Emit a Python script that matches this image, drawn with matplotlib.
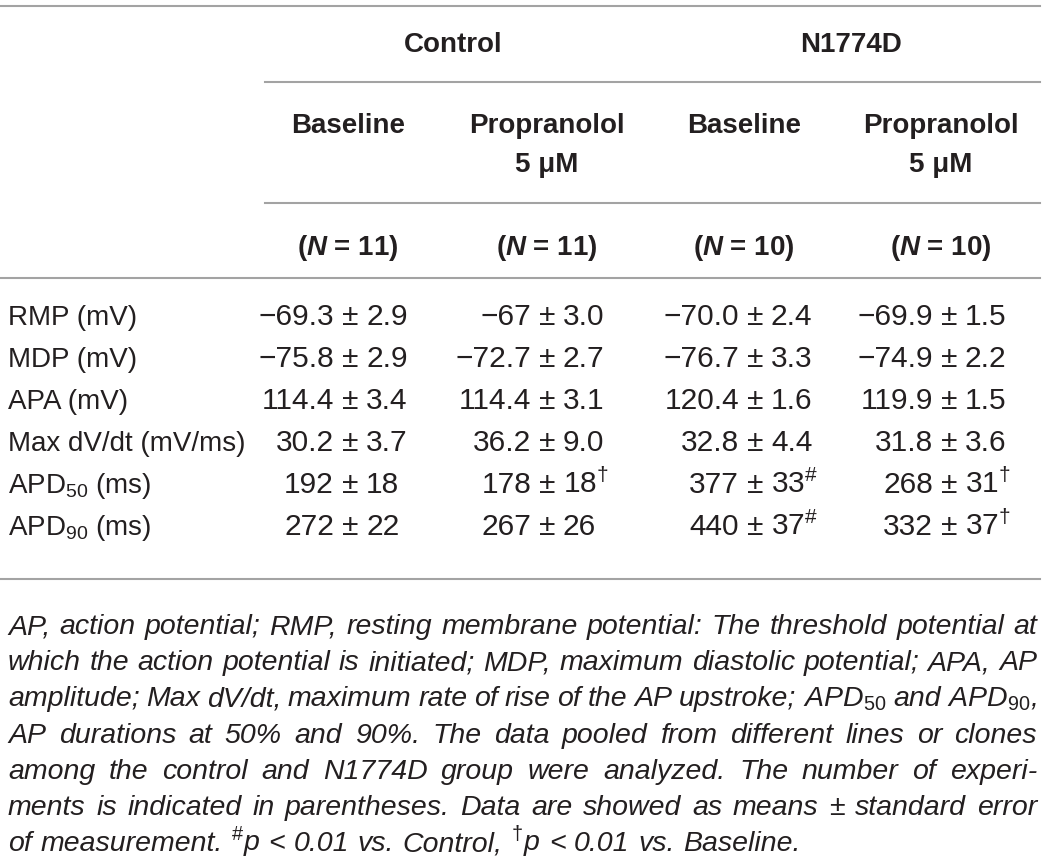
import matplotlib
matplotlib.use("Agg")
import matplotlib.pyplot as plt

plt.rcParams['font.family'] = ['Liberation Sans', 'DejaVu Sans']
plt.rcParams['mathtext.fontset'] = 'custom'
plt.rcParams['mathtext.rm'] = 'Liberation Sans'
plt.rcParams['mathtext.it'] = 'Liberation Sans:italic'
plt.rcParams['mathtext.bf'] = 'Liberation Sans:bold'
plt.rcParams['mathtext.bfit'] = 'Liberation Sans:italic:bold'

# === table content ===
groups = ['Control', 'N1774D']
conditions = ['Baseline', 'Propranolol\n5 μM', 'Baseline', 'Propranolol\n5 μM']
n_values = [11, 11, 10, 10]

row_labels = ['RMP (mV)', 'MDP (mV)', 'APA (mV)', 'Max dV/dt (mV/ms)',
              'APD$_{50}$ (ms)', 'APD$_{90}$ (ms)']

ctrl_base_mean = ['−69.3', '−75.8', '114.4', '30.2', '192', '272']
ctrl_base_sem = ['2.9', '2.9', '3.4', '3.7', '18', '22']
ctrl_prop_mean = ['−67', '−72.7', '114.4', '36.2', '178', '267']
ctrl_prop_sem = ['3.0', '2.7', '3.1', '9.0', '18', '26']
mut_base_mean = ['−70.0', '−76.7', '120.4', '32.8', '377', '440']
mut_base_sem = ['2.4', '3.3', '1.6', '4.4', '33', '37']
mut_prop_mean = ['−69.9', '−74.9', '119.9', '31.8', '268', '332']
mut_prop_sem = ['1.5', '2.2', '1.5', '3.6', '31', '37']

# significance marks: '#' vs Control, 'dag' vs Baseline
ctrl_base_mark = ['', '', '', '', '', '']
ctrl_prop_mark = ['', '', '', '', 'dag', '']
mut_base_mark = ['', '', '', '', '#', '#']
mut_prop_mark = ['', '', '', '', 'dag', 'dag']

footnote_lines = [
    'AP, action potential; RMP, resting membrane potential: The threshold potential at',
    'which the action potential is initiated; MDP, maximum diastolic potential; APA, AP',
    r'amplitude; Max dV/dt, maximum rate of rise of the AP upstroke; APD$_{\mathit{50}}$ and APD$_{\mathit{90}}$,',
    'AP durations at 50% and 90%. The data pooled from different lines or clones',
    'among the control and N1774D group were analyzed. The number of experi-',
    'ments is indicated in parentheses. Data are showed as means ± standard error',
    r'of measurement. $^{\#}$p < 0.01 vs. Control, $^{\dagger}$p < 0.01 vs. Baseline.',
]

means = [ctrl_base_mean, ctrl_prop_mean, mut_base_mean, mut_prop_mean]
sems = [ctrl_base_sem, ctrl_prop_sem, mut_base_sem, mut_prop_sem]
marks = [ctrl_base_mark, ctrl_prop_mark, mut_base_mark, mut_prop_mark]

# === layout (pixel units) ===
W, H = 1043, 860
ink = '#231f20'
rule = '#a3a3a3'
col_centers = [348, 547, 744, 941]
pm_x = [350, 547, 755, 949]
group_centers = [453, 851]
row_y = [315, 357, 399, 441, 483, 525]
fs = 20
num_fs = 21.5

fig = plt.figure(figsize=(W / 100, H / 100), dpi=100)
ax = fig.add_axes([0, 0, 1, 1])
ax.set_xlim(0, W)
ax.set_ylim(H, 0)
ax.axis('off')

# rules
ax.plot([0, 1040], [5.5, 5.5], color=rule, lw=1.5)
ax.plot([265, 1040], [82, 82], color=rule, lw=1.5)
ax.plot([265, 1040], [203, 203], color=rule, lw=1.5)
ax.plot([0, 1040], [278, 278], color=rule, lw=1.5)
ax.plot([0, 1040], [579, 579], color=rule, lw=1.5)

# headers
for g, x in zip(groups, group_centers):
    ax.text(x, 52, g, ha='center', va='baseline', fontsize=fs,
            fontweight='bold', color=ink)
for c, x in zip(conditions, col_centers):
    parts = c.split('\n')
    ax.text(x, 133, parts[0], ha='center', va='baseline', fontsize=fs,
            fontweight='bold', color=ink)
    if len(parts) > 1:
        ax.text(x, 172, parts[1], ha='center', va='baseline', fontsize=fs,
                fontweight='bold', color=ink)
for n, x in zip(n_values, col_centers):
    ax.text(x, 255, '($\\mathbfit{N}$ = %d)' % n, ha='center', va='baseline',
            fontsize=fs, fontweight='bold', color=ink)

# body, aligned on the ± sign
for i, lab in enumerate(row_labels):
    yb = row_y[i] + 10
    ax.text(8, yb, lab, ha='left', va='baseline', fontsize=fs, color=ink)
    for j in range(4):
        x = pm_x[j]
        ax.text(x - 16, yb, means[j][i], ha='right', va='baseline',
                fontsize=num_fs, color=ink)
        ax.text(x, yb, '±', ha='center', va='baseline', fontsize=num_fs,
                color=ink)
        right = sems[j][i]
        if marks[j][i] == '#':
            right += r'$^{\#}$'
        elif marks[j][i] == 'dag':
            right += r'$^{\dagger}$'
        ax.text(x + 16, yb, right, ha='left', va='baseline', fontsize=num_fs,
                color=ink)

# footnote, justified line by line
renderer = fig.canvas.get_renderer()
x0, x1 = 8, 1037
fn_fs = 20.5
for k, line in enumerate(footnote_lines):
    yb = 625 + 36.2 * k + 9
    words = line.split(' ')
    texts = []
    for w in words:
        t = ax.text(0, yb, w, ha='left', va='baseline', fontsize=fn_fs,
                    style='italic', color=ink)
        texts.append(t)
    widths = [t.get_window_extent(renderer=renderer).width for t in texts]
    space = 0.3 * fn_fs * 100 / 72
    if k < len(footnote_lines) - 1:
        gap = (x1 - x0 - sum(widths)) / (len(words) - 1)
    else:
        gap = space
    x = x0
    for t, wd in zip(texts, widths):
        t.set_x(x)
        x += wd + gap

fig.savefig('out.png', dpi=100)
